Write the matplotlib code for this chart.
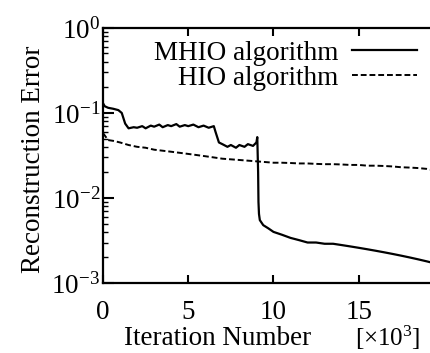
import matplotlib
matplotlib.use('Agg')
import matplotlib.pyplot as plt
from matplotlib.ticker import LogLocator, NullFormatter

plt.rcParams['font.family'] = 'Liberation Serif'
plt.rcParams['mathtext.fontset'] = 'custom'
plt.rcParams['mathtext.rm'] = 'Liberation Serif'
plt.rcParams['mathtext.it'] = 'Liberation Serif:italic'

# MHIO algorithm (iterations in units of 10^3)
mhio_x = [0.0, 0.1, 0.3, 0.6, 0.9, 1.1, 1.3, 1.5, 1.8, 2.0, 2.3, 2.5, 2.8, 3.0, 3.3,
          3.5, 3.8, 4.0, 4.3, 4.5, 4.8, 5.0, 5.3, 5.6, 5.9, 6.2, 6.5, 6.6, 6.8, 7.0,
          7.3, 7.5, 7.8, 8.0, 8.3, 8.5, 8.8, 9.0, 9.05, 9.1, 9.12, 9.15, 9.2, 9.4,
          9.7, 10.0, 10.5, 11.0, 11.5, 12.0, 12.5, 13.0, 13.5, 14.0, 14.5, 15.0,
          15.5, 16.0, 16.5, 17.0, 17.5, 18.0, 18.5, 19.0, 19.5]
mhio_y = [0.13, 0.12, 0.115, 0.112, 0.108, 0.10, 0.075, 0.066, 0.068, 0.067, 0.070,
          0.066, 0.071, 0.069, 0.073, 0.068, 0.072, 0.070, 0.074, 0.069, 0.072, 0.070,
          0.073, 0.068, 0.071, 0.067, 0.070, 0.060, 0.045, 0.043, 0.040, 0.042, 0.039,
          0.042, 0.040, 0.043, 0.041, 0.045, 0.052, 0.02, 0.009, 0.0065, 0.0055,
          0.0048, 0.0044, 0.0040, 0.0037, 0.0034, 0.0032, 0.0030, 0.0030, 0.0029,
          0.0029, 0.0028, 0.0027, 0.0026, 0.0025, 0.0024, 0.0023, 0.0022, 0.0021,
          0.0020, 0.0019, 0.0018, 0.0017]

# HIO algorithm
hio_x = [0, 0.3, 0.6, 1.0, 1.5, 2.0, 2.5, 3.0, 3.5, 4.0, 4.5, 5.0, 5.5, 6.0, 6.5,
         7.0, 7.5, 8.0, 8.5, 9.0, 9.5, 10, 10.5, 11, 11.5, 12, 12.5, 13, 13.5, 14,
         14.5, 15, 15.5, 16, 16.5, 17, 17.5, 18, 18.5, 19, 19.5]
hio_y = [0.058, 0.048, 0.047, 0.045, 0.042, 0.040, 0.039, 0.037, 0.036, 0.035, 0.034,
         0.033, 0.032, 0.031, 0.030, 0.029, 0.0285, 0.028, 0.0275, 0.027, 0.0265,
         0.026, 0.026, 0.0258, 0.0255, 0.0255, 0.0252, 0.025, 0.025, 0.0248, 0.0245,
         0.0245, 0.024, 0.024, 0.0238, 0.0235, 0.023, 0.0228, 0.0225, 0.022, 0.021]

x_ticks = [0, 5, 10, 15]
y_ticks = [1e-3, 1e-2, 1e-1, 1e0]
y_labels = [r'$\mathregular{10^{-3}}$', r'$\mathregular{10^{-2}}$',
            r'$\mathregular{10^{-1}}$', r'$\mathregular{10^{0}}$']

fs = 19.5
fig = plt.figure(figsize=(4.31, 3.53), dpi=100)
ax = fig.add_axes([0.239, 0.198, 1.03 - 0.239, 0.921 - 0.198])

ax.plot(mhio_x, mhio_y, color='black', lw=1.6, label='MHIO algorithm')
ax.plot(hio_x, hio_y, color='black', lw=1.4, linestyle=(0, (3, 1.5)),
        label='HIO algorithm')

ax.set_yscale('log')
ax.set_xlim(0, 20)
ax.set_ylim(1e-3, 1)
ax.set_xticks(x_ticks)
ax.set_yticks(y_ticks)
ax.set_yticklabels(y_labels)
ax.yaxis.set_minor_locator(LogLocator(base=10, subs=range(2, 10)))
ax.yaxis.set_minor_formatter(NullFormatter())

for s in ax.spines.values():
    s.set_linewidth(1.6)

ax.tick_params(axis='x', which='major', direction='in', length=6, width=1.5,
               top=True, labelsize=fs, pad=12)
ax.tick_params(axis='y', which='major', direction='in', length=8, width=1.5,
               labelsize=fs, pad=2)
ax.tick_params(axis='y', which='minor', direction='in', length=3.5, width=1.0)

ax.legend(loc='upper right', bbox_to_anchor=(0.9675, 0.885),
          bbox_transform=fig.transFigure, frameon=False, markerfirst=False,
          fontsize=fs, borderpad=0, borderaxespad=0, handlelength=2.4,
          handletextpad=0.5, labelspacing=0.0)

fig.text(0.077, 0.55, 'Reconstruction Error', rotation=90, fontsize=fs,
         ha='center', va='center')
fig.text(0.505, 0.042, 'Iteration Number', fontsize=fs, ha='center', va='center')
fig.text(0.9, 0.042, r'[$\mathregular{\times 10^{3}}$]', fontsize=18,
         ha='center', va='center')

fig.savefig('out.png', dpi=100)
